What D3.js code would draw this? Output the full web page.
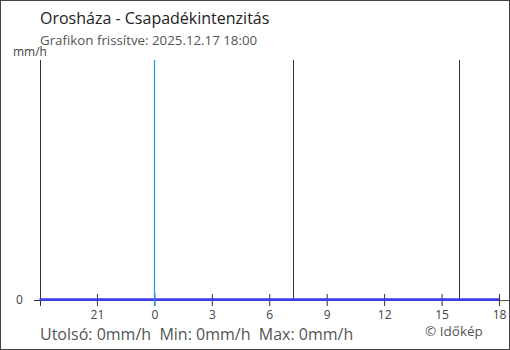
<!DOCTYPE html>
<html>
<head>
<meta charset="utf-8">
<script src="https://cdn.jsdelivr.net/npm/d3@7"></script>
<style>
  body { margin: 0; background: #fff; }
  svg text { font-family: 'Open Sans', 'Noto Sans', sans-serif; }
</style>
</head>
<body>
<div id="chart"></div>
<script>
let width = 510
let height = 350

// hours since 2025.12.16 18:00
let hours = [0, 1, 2, 3, 4, 5, 6, 7, 8, 9, 10, 11, 12, 13, 14, 15, 16, 17, 18, 19, 20, 21, 22, 23, 24]
let rain = [0, 0, 0, 0, 0, 0, 0, 0, 0, 0, 0, 0, 0, 0, 0, 0, 0, 0, 0, 0, 0, 0, 0, 0, 0]
let tickHours = [3, 6, 9, 12, 15, 18, 21, 24]
let tickLabels = ['21', '0', '3', '6', '9', '12', '15', '18']
let midnight = 6
let sunMarks = [13.25, 21.9] // napkelte, napnyugta

let margin = { top: 60, right: 10, bottom: 50, left: 40 }

let xScale = d3.scaleLinear()
  .domain([0, 24])
  .range([39.5, 499])

let yScale = d3.scaleLinear()
  .domain([0, 1])
  .range([300, margin.top])

let svg = d3.select('#chart').append('svg')
  .attr('width', width)
  .attr('height', height)

// keret
svg.append('rect')
  .attr('x', 0.5).attr('y', 0.5)
  .attr('width', width - 1).attr('height', height - 1)
  .attr('fill', 'none')
  .attr('stroke', '#444')

svg.append('text')
  .attr('x', 40).attr('y', 24)
  .attr('font-size', 16)
  .attr('fill', '#222')
  .text('Orosháza - Csapadékintenzitás')

svg.append('text')
  .attr('x', 40).attr('y', 45)
  .attr('font-size', 13.3)
  .attr('fill', '#555')
  .text('Grafikon frissítve: 2025.12.17 18:00')

svg.append('text')
  .attr('x', 13).attr('y', 56)
  .attr('font-size', 12)
  .attr('fill', '#444')
  .text('mm/h')

// x tengely vonal
svg.append('line')
  .attr('x1', margin.left).attr('x2', width - 1)
  .attr('y1', yScale(0) + 0.5).attr('y2', yScale(0) + 0.5)
  .attr('stroke', '#555')

// y tengely
let yAxis = svg.append('g')
  .attr('transform', 'translate(' + margin.left + ',0)')
  .call(d3.axisLeft(yScale).tickValues([0]).tickSize(6).tickFormat(d3.format('d')))
yAxis.select('.domain')
  .attr('d', 'M0.5,' + yScale(1) + 'V' + (yScale(0) + 6))
  .attr('stroke', '#333')
yAxis.selectAll('.tick line').attr('stroke', '#333')
yAxis.selectAll('.tick text')
  .attr('x', -24)
  .attr('text-anchor', 'start')
  .attr('font-size', 12)
  .attr('fill', '#444')
  .attr('font-family', null)

// x tengely
let xAxis = svg.append('g')
  .attr('transform', 'translate(0,' + yScale(0) + ')')
  .call(d3.axisBottom(xScale)
    .tickValues(tickHours)
    .tickSize(6)
    .tickFormat((d, i) => tickLabels[i]))
xAxis.select('.domain').remove()
xAxis.selectAll('.tick line')
  .attr('y1', -6)
  .attr('stroke', '#333')
xAxis.selectAll('.tick text')
  .attr('y', 10)
  .attr('font-size', 12)
  .attr('fill', '#444')
  .attr('font-family', null)

// napkelte, napnyugta
svg.selectAll('.sun')
  .data(sunMarks)
  .enter().append('line')
  .attr('class', 'sun')
  .attr('x1', (d) => Math.round(xScale(d)) + 0.5)
  .attr('x2', (d) => Math.round(xScale(d)) + 0.5)
  .attr('y1', yScale(1)).attr('y2', yScale(0))
  .attr('stroke', '#333')

let line = d3.line()
  .x((d, i) => xScale(hours[i]))
  .y((d) => yScale(d) - 0.5)

svg.append('path')
  .datum(rain)
  .attr('d', line)
  .attr('fill', 'none')
  .attr('stroke', '#3a3aff')
  .attr('stroke-width', 2.5)

// éjfél
svg.append('line')
  .attr('x1', Math.floor(xScale(midnight)) + 0.5).attr('x2', Math.floor(xScale(midnight)) + 0.5)
  .attr('y1', yScale(1)).attr('y2', yScale(0) + 6)
  .style('stroke', '#1e96f0')
  .style('stroke-width', 1.2)

svg.append('text')
  .attr('x', 40).attr('y', 340)
  .attr('font-size', 16)
  .attr('fill', '#555')
  .attr('xml:space', 'preserve')
  .text('Utolsó: 0mm/h  Min: 0mm/h  Max: 0mm/h')

svg.append('text')
  .attr('x', 425).attr('y', 336)
  .attr('font-size', 13.5)
  .attr('fill', '#555')
  .text('© Időkép')
</script>
</body>
</html>
